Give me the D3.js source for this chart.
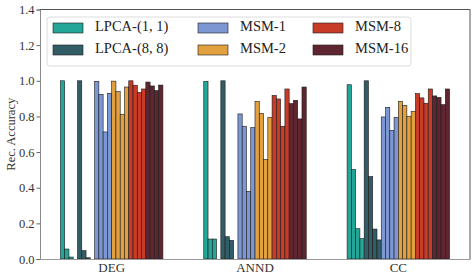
<!DOCTYPE html>
<html>
<head>
<meta charset="utf-8">
<script src="https://cdn.jsdelivr.net/npm/d3@7"></script>
<style>
  html, body { margin: 0; padding: 0; background: #fff; }
</style>
</head>
<body>
<svg id="chart" width="475" height="279" font-family="'Liberation Serif', 'Times New Roman', Times, serif"></svg>
<script>
// ---------------------------------------------------------------------------
// Data: reconstruction accuracy, 4 runs per method for each metric
// ---------------------------------------------------------------------------
const categories = ["DEG", "ANND", "CC"];
const seriesNames = ["LPCA-(1, 1)", "LPCA-(8, 8)", "MSM-1", "MSM-2", "MSM-8", "MSM-16"];
const seriesColors = ["#23a597", "#335d66", "#7d97d3", "#e2a03f", "#c83b27", "#5f2631"];

const lpca11 = [[1.0, 0.056, 0.011, 0.0], [0.997, 0.112, 0.112, 0.0], [0.978, 0.503, 0.17, 0.114]];
const lpca88 = [[1.0, 0.047, 0.007, 0.0], [1.0, 0.125, 0.105, 0.0], [1.0, 0.462, 0.168, 0.107]];
const msm1   = [[0.997, 0.924, 0.713, 0.93], [0.814, 0.745, 0.38, 0.737], [0.797, 0.851, 0.722, 0.795]];
const msm2   = [[0.998, 0.939, 0.812, 0.965], [0.885, 0.817, 0.559, 0.795], [0.885, 0.862, 0.801, 0.829]];
const msm8   = [[1.0, 0.975, 0.935, 0.954], [0.918, 0.898, 0.745, 0.954], [0.928, 0.904, 0.874, 0.954]];
const msm16  = [[0.993, 0.971, 0.945, 0.976], [0.872, 0.89, 0.786, 0.965], [0.915, 0.907, 0.866, 0.954]];

const yTicks = [0, 0.2, 0.4, 0.6, 0.8, 1.0, 1.2, 1.4];

const allSeries = [lpca11, lpca88, msm1, msm2, msm8, msm16];
const runsPerSeries = 4;
const FONT = "'Liberation Serif', 'Times New Roman', Times, serif";

// ---------------------------------------------------------------------------
const svg = d3.select("#chart");
const margin = { top: 9.5, right: 5, bottom: 20, left: 40 };
const width = 475, height = 279;
const innerW = width - margin.left - margin.right;
const innerH = height - margin.top - margin.bottom;

const g = svg.append("g")
    .attr("transform", `translate(${margin.left},${margin.top})`);

const x = d3.scaleBand()
    .domain(categories)
    .range([0, innerW])
    .paddingInner(0.285)
    .paddingOuter(0.1425);

// one slot per (series, run) inside each category
const slots = d3.range(seriesNames.length * runsPerSeries);
const xSlot = d3.scaleBand()
    .domain(slots)
    .range([0, x.bandwidth()]);

const y = d3.scaleLinear()
    .domain([0, 1.4])
    .range([innerH, 0]);

// Flatten into bar records
const bars = [];
categories.forEach((cat, ci) => {
    allSeries.forEach((s, si) => {
        s[ci].forEach((v, ri) => {
            bars.push({ cat, si, slot: si * runsPerSeries + ri, value: v });
        });
    });
});

g.selectAll("rect.bar")
    .data(bars)
    .enter()
    .append("rect")
    .attr("class", "bar")
    .attr("x", d => x(d.cat) + xSlot(d.slot))
    .attr("y", d => y(d.value))
    .attr("width", xSlot.bandwidth())
    .attr("height", d => innerH - y(d.value))
    .attr("fill", d => seriesColors[d.si])
    .attr("stroke", "#1b1b1b")
    .attr("stroke-width", 0.6);

// Spines
g.append("line").attr("x1", 0).attr("x2", innerW).attr("y1", 0).attr("y2", 0)
    .attr("stroke", "#555").attr("stroke-width", 1);
g.append("line").attr("x1", innerW).attr("x2", innerW).attr("y1", 0).attr("y2", innerH)
    .attr("stroke", "#555").attr("stroke-width", 1);

// Y axis
const yAxis = g.append("g")
    .call(d3.axisLeft(y).tickValues(yTicks).tickFormat(d3.format(".1f")).tickSize(3.5).tickPadding(2))
    .attr("font-family", FONT);
yAxis.select(".domain").attr("stroke", "#8a8a8a");
yAxis.selectAll(".tick line").attr("stroke", "#666");
yAxis.selectAll("text")
    .attr("font-family", FONT)
    .attr("font-size", 12.5)
    .attr("fill", "#333");

// X axis
const xAxis = g.append("g")
    .attr("transform", `translate(0,${innerH})`)
    .call(d3.axisBottom(x).tickSize(0).tickPadding(4))
    .attr("font-family", FONT);
xAxis.select(".domain").attr("stroke", "#9a9a9a");
xAxis.selectAll("text")
    .attr("font-family", FONT)
    .attr("font-size", 13)
    .attr("fill", "#333");

// Y label
svg.append("text")
    .attr("transform", `translate(12,${margin.top + innerH / 2}) rotate(-90)`)
    .attr("text-anchor", "middle")
    .attr("dominant-baseline", "middle")
    .attr("font-family", FONT)
    .attr("font-size", 12.5)
    .attr("fill", "#333")
    .text("Rec. Accuracy");

// Legend
const legend = svg.append("g");
legend.append("rect")
    .attr("x", 47).attr("y", 17)
    .attr("width", 364).attr("height", 49)
    .attr("rx", 3)
    .attr("fill", "rgba(255,255,255,0.8)")
    .attr("stroke", "#ddd")
    .attr("stroke-width", 1);

const colX = [53, 198, 313];
const rowY = [28, 50];
seriesNames.forEach((name, i) => {
    const col = Math.floor(i / 2), row = i % 2;
    const item = legend.append("g")
        .attr("transform", `translate(${colX[col]},${rowY[row]})`);
    item.append("rect")
        .attr("x", 0).attr("y", -5)
        .attr("width", 30).attr("height", 10)
        .attr("fill", seriesColors[i])
        .attr("stroke", "#1b1b1b")
        .attr("stroke-width", 0.6);
    item.append("text")
        .attr("x", 42).attr("y", 0)
        .attr("dominant-baseline", "middle")
        .attr("font-family", FONT)
        .attr("font-size", 14.5)
        .attr("fill", "#222")
        .text(name);
});
</script>
</body>
</html>
